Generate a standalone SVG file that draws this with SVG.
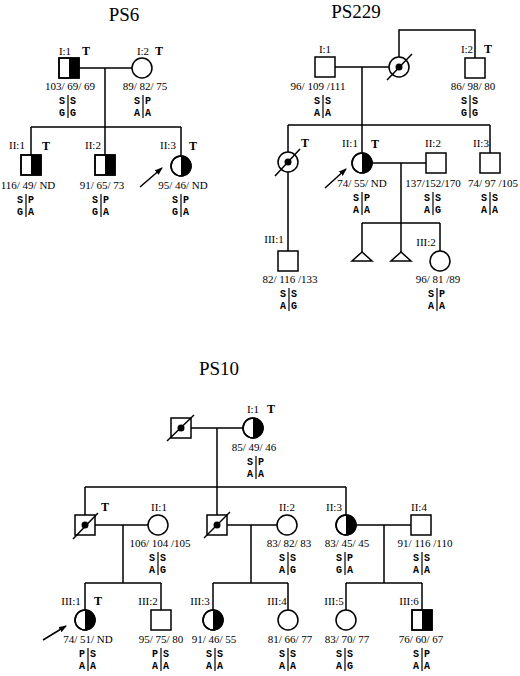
<svg xmlns="http://www.w3.org/2000/svg" width="520" height="676" viewBox="0 0 520 676">
<style>
.bg{fill:#fff}
.sh{fill:#fff;stroke:#000;stroke-width:1.5}
.fl{fill:#000;stroke:none}
.ln{stroke:#000;stroke-width:1.5;fill:none}
.bar{stroke:#000;stroke-width:1.2}
.ttl{font-family:"Liberation Serif",serif;font-size:19px;text-anchor:middle}
.num{font-family:"Liberation Serif",serif;font-size:11px;text-anchor:middle}
.lab{font-family:"Liberation Serif",serif;font-size:11px;text-anchor:middle}
.t{font-family:"Liberation Serif",serif;font-size:12px;font-weight:bold;text-anchor:middle}
.gl{font-family:"Liberation Mono",monospace;font-size:10px;font-weight:bold;text-anchor:end}
.gr{font-family:"Liberation Mono",monospace;font-size:10px;font-weight:bold;text-anchor:start}
</style>
<defs>
<marker id="ah" markerWidth="8" markerHeight="6" refX="7" refY="3" orient="auto" markerUnits="userSpaceOnUse"><path d="M0,0 L8,3 L0,6 Z" fill="#000"/></marker>
</defs>
<rect class="bg" x="0" y="0" width="520" height="676"/>
<text class="ttl" x="124" y="21">PS6</text>
<text class="ttl" x="356" y="18">PS229</text>
<text class="ttl" x="219" y="375">PS10</text>

<g id="connectors">
<path class="ln" d="M79,68 H132 M105,68 V127 M31,127 H181 M31,127 V155 M105,127 V155 M181,127 V156"/>
<path class="ln" d="M140,187 L162,168" marker-end="url(#ah)"/>
<path class="ln" d="M335,67 H389 M362,67 V125 M399,57 V30 H475 V58 M288,125 H490 M288,125 V152 M288,172 V251 M362,125 V153 M490,125 V153 M372,163 H426 M401,163 V252 M362,223 H440 M362,223 V252 M440,223 V251"/>
<path class="ln" d="M325,188 L346,169" marker-end="url(#ah)"/>
<path class="ln" d="M191,428 H243 M217,428 V487 M85,487 H346 M85,487 V515 M217,487 V515 M346,487 V515 M95,525 H148 M123,525 V583 M85,583 H161 M85,583 V610 M161,583 V610 M227,525 H277 M251,525 V583 M213,583 H288 M213,583 V610 M288,583 V610 M356,525 H411 M384,525 V583 M346,583 H422 M346,583 V610 M422,583 V610"/>
<path class="ln" d="M43,640 L66,626" marker-end="url(#ah)"/>
</g>

<g id="ps6-I1">
<rect class="sh" x="59" y="58" width="20" height="20"/><rect class="fl" x="69" y="58" width="10" height="20"/><rect class="ln" x="59" y="58" width="20" height="20"/>
<text class="lab" x="65" y="55">I:1</text><text class="t" x="86" y="55">T</text>
<text class="num" x="70" y="90">103/ 69/ 69</text>
<line class="bar" x1="68" y1="95" x2="68" y2="118"/>
<text class="gl" x="65" y="104">S</text><text class="gr" x="70" y="104">S</text>
<text class="gl" x="65" y="116">G</text><text class="gr" x="70" y="116">G</text>
</g>
<g id="ps6-I2">
<circle class="sh" cx="142" cy="68" r="10"/>
<text class="lab" x="143" y="55">I:2</text><text class="t" x="159" y="55">T</text>
<text class="num" x="145" y="90">89/ 82/ 75</text>
<line class="bar" x1="143" y1="95" x2="143" y2="118"/>
<text class="gl" x="140" y="104">S</text><text class="gr" x="145" y="104">P</text>
<text class="gl" x="140" y="116">A</text><text class="gr" x="145" y="116">A</text>
</g>
<g id="ps6-II1">
<rect class="sh" x="21" y="155" width="20" height="20"/><rect class="fl" x="31" y="155" width="10" height="20"/><rect class="ln" x="21" y="155" width="20" height="20"/>
<text class="lab" x="17" y="149">II:1</text><text class="t" x="46" y="150">T</text>
<text class="num" x="28" y="189">116/ 49/ ND</text>
<line class="bar" x1="26" y1="194" x2="26" y2="217"/>
<text class="gl" x="23" y="203">S</text><text class="gr" x="28" y="203">P</text>
<text class="gl" x="23" y="215">G</text><text class="gr" x="28" y="215">A</text>
</g>
<g id="ps6-II2">
<rect class="sh" x="95" y="155" width="20" height="20"/><rect class="fl" x="105" y="155" width="10" height="20"/><rect class="ln" x="95" y="155" width="20" height="20"/>
<text class="lab" x="93" y="149">II:2</text>
<text class="num" x="102" y="189">91/ 65/ 73</text>
<line class="bar" x1="101" y1="194" x2="101" y2="217"/>
<text class="gl" x="98" y="203">S</text><text class="gr" x="103" y="203">P</text>
<text class="gl" x="98" y="215">G</text><text class="gr" x="103" y="215">A</text>
</g>
<g id="ps6-II3">
<circle class="sh" cx="181" cy="166" r="10"/><path class="fl" d="M181,156 A10,10 0 0 1 181,176 Z"/><circle class="ln" cx="181" cy="166" r="10"/>
<text class="lab" x="168" y="149">II:3</text><text class="t" x="193" y="150">T</text>
<text class="num" x="183" y="189">95/ 46/ ND</text>
<line class="bar" x1="181" y1="194" x2="181" y2="217"/>
<text class="gl" x="178" y="203">S</text><text class="gr" x="183" y="203">P</text>
<text class="gl" x="178" y="215">G</text><text class="gr" x="183" y="215">A</text>
</g>

<g id="ps229-I1">
<rect class="sh" x="315" y="57" width="20" height="20"/>
<text class="lab" x="325" y="53">I:1</text>
<text class="num" x="318" y="90">96/ 109 /111</text>
<line class="bar" x1="323" y1="95" x2="323" y2="118"/>
<text class="gl" x="320" y="104">S</text><text class="gr" x="325" y="104">S</text>
<text class="gl" x="320" y="116">A</text><text class="gr" x="325" y="116">A</text>
</g>
<g id="ps229-Ideceased">
<circle class="sh" cx="399" cy="67" r="10"/><circle class="fl" cx="399" cy="67" r="3.5"/>
<line class="ln" x1="387" y1="80" x2="412" y2="54"/>
</g>
<g id="ps229-I2">
<rect class="sh" x="465" y="58" width="20" height="20"/>
<text class="lab" x="467" y="53">I:2</text><text class="t" x="488" y="53">T</text>
<text class="num" x="473" y="90">86/ 98/ 80</text>
<line class="bar" x1="470" y1="95" x2="470" y2="118"/>
<text class="gl" x="467" y="104">S</text><text class="gr" x="472" y="104">S</text>
<text class="gl" x="467" y="116">G</text><text class="gr" x="472" y="116">G</text>
</g>
<g id="ps229-IIdeceased">
<circle class="sh" cx="288" cy="162" r="10"/><circle class="fl" cx="288" cy="162" r="3.5"/>
<line class="ln" x1="275" y1="176" x2="300" y2="149"/>
<text class="t" x="305" y="147">T</text>
</g>
<g id="ps229-II1">
<circle class="sh" cx="362" cy="163" r="10"/><path class="fl" d="M362,153 A10,10 0 0 1 362,173 Z"/><circle class="ln" cx="362" cy="163" r="10"/>
<text class="lab" x="350" y="147">II:1</text><text class="t" x="375" y="148">T</text>
<text class="num" x="362" y="187">74/ 55/ ND</text>
<line class="bar" x1="362" y1="192" x2="362" y2="215"/>
<text class="gl" x="359" y="201">S</text><text class="gr" x="364" y="201">P</text>
<text class="gl" x="359" y="213">A</text><text class="gr" x="364" y="213">A</text>
</g>
<g id="ps229-II2">
<rect class="sh" x="426" y="153" width="20" height="20"/>
<text class="lab" x="433" y="147">II:2</text>
<text class="num" x="433" y="187">137/152/170</text>
<line class="bar" x1="433" y1="192" x2="433" y2="215"/>
<text class="gl" x="430" y="201">S</text><text class="gr" x="435" y="201">S</text>
<text class="gl" x="430" y="213">A</text><text class="gr" x="435" y="213">G</text>
</g>
<g id="ps229-II3">
<rect class="sh" x="480" y="153" width="20" height="20"/>
<text class="lab" x="481" y="147">II:3</text>
<text class="num" x="493" y="187">74/ 97 /105</text>
<line class="bar" x1="490" y1="192" x2="490" y2="215"/>
<text class="gl" x="487" y="201">S</text><text class="gr" x="492" y="201">S</text>
<text class="gl" x="487" y="213">A</text><text class="gr" x="492" y="213">A</text>
</g>
<g id="ps229-III1">
<rect class="sh" x="278" y="251" width="20" height="20"/>
<text class="lab" x="274" y="243">III:1</text>
<text class="num" x="290" y="283">82/ 116 /133</text>
<line class="bar" x1="289" y1="288" x2="289" y2="311"/>
<text class="gl" x="286" y="297">S</text><text class="gr" x="291" y="297">S</text>
<text class="gl" x="286" y="309">A</text><text class="gr" x="291" y="309">G</text>
</g>
<g id="ps229-tri1"><path class="sh" d="M362,252 L352,261 L372,261 Z"/></g>
<g id="ps229-tri2"><path class="sh" d="M401,252 L391,261 L411,261 Z"/></g>
<g id="ps229-III2">
<circle class="sh" cx="440" cy="261" r="10"/>
<text class="lab" x="426" y="246">III:2</text>
<text class="num" x="438" y="283">96/ 81 /89</text>
<line class="bar" x1="437" y1="288" x2="437" y2="311"/>
<text class="gl" x="434" y="297">S</text><text class="gr" x="439" y="297">P</text>
<text class="gl" x="434" y="309">A</text><text class="gr" x="439" y="309">A</text>
</g>

<g id="ps10-Ideceased">
<rect class="sh" x="171" y="418" width="20" height="20"/><circle class="fl" cx="181" cy="428" r="3.5"/>
<line class="ln" x1="167" y1="441" x2="194" y2="415"/>
</g>
<g id="ps10-I1">
<circle class="sh" cx="253" cy="428" r="10"/><path class="fl" d="M253,418 A10,10 0 0 1 253,438 Z"/><circle class="ln" cx="253" cy="428" r="10"/>
<text class="lab" x="253" y="413">I:1</text><text class="t" x="271" y="413">T</text>
<text class="num" x="254" y="451">85/ 49/ 46</text>
<line class="bar" x1="256" y1="456" x2="256" y2="479"/>
<text class="gl" x="253" y="465">S</text><text class="gr" x="258" y="465">P</text>
<text class="gl" x="253" y="477">A</text><text class="gr" x="258" y="477">A</text>
</g>
<g id="ps10-IIdeceased1">
<rect class="sh" x="75" y="515" width="20" height="20"/><circle class="fl" cx="85" cy="525" r="3.5"/>
<line class="ln" x1="73" y1="539" x2="98" y2="513"/>
<text class="t" x="105" y="511">T</text>
</g>
<g id="ps10-II1">
<circle class="sh" cx="158" cy="525" r="10"/>
<text class="lab" x="159" y="511">II:1</text>
<text class="num" x="160" y="547">106/ 104 /105</text>
<line class="bar" x1="158" y1="552" x2="158" y2="575"/>
<text class="gl" x="155" y="561">S</text><text class="gr" x="160" y="561">S</text>
<text class="gl" x="155" y="573">A</text><text class="gr" x="160" y="573">G</text>
</g>
<g id="ps10-IIdeceased2">
<rect class="sh" x="207" y="515" width="20" height="20"/><circle class="fl" cx="217" cy="525" r="3.5"/>
<line class="ln" x1="204" y1="538" x2="230" y2="512"/>
</g>
<g id="ps10-II2">
<circle class="sh" cx="287" cy="525" r="10"/>
<text class="lab" x="287" y="511">II:2</text>
<text class="num" x="289" y="547">83/ 82/ 83</text>
<line class="bar" x1="288" y1="552" x2="288" y2="575"/>
<text class="gl" x="285" y="561">S</text><text class="gr" x="290" y="561">S</text>
<text class="gl" x="285" y="573">A</text><text class="gr" x="290" y="573">G</text>
</g>
<g id="ps10-II3">
<circle class="sh" cx="346" cy="525" r="10"/><path class="fl" d="M346,515 A10,10 0 0 1 346,535 Z"/><circle class="ln" cx="346" cy="525" r="10"/>
<text class="lab" x="334" y="511">II:3</text>
<text class="num" x="347" y="547">83/ 45/ 45</text>
<line class="bar" x1="345" y1="552" x2="345" y2="575"/>
<text class="gl" x="342" y="561">S</text><text class="gr" x="347" y="561">P</text>
<text class="gl" x="342" y="573">G</text><text class="gr" x="347" y="573">A</text>
</g>
<g id="ps10-II4">
<rect class="sh" x="411" y="515" width="20" height="20"/>
<text class="lab" x="419" y="511">II:4</text>
<text class="num" x="425" y="547">91/ 116 /110</text>
<line class="bar" x1="422" y1="552" x2="422" y2="575"/>
<text class="gl" x="419" y="561">S</text><text class="gr" x="424" y="561">S</text>
<text class="gl" x="419" y="573">A</text><text class="gr" x="424" y="573">A</text>
</g>
<g id="ps10-III1">
<circle class="sh" cx="85" cy="620" r="10"/><path class="fl" d="M85,610 A10,10 0 0 1 85,630 Z"/><circle class="ln" cx="85" cy="620" r="10"/>
<text class="lab" x="71" y="605">III:1</text><text class="t" x="98" y="605">T</text>
<text class="num" x="88" y="643">74/ 51/ ND</text>
<line class="bar" x1="88" y1="648" x2="88" y2="671"/>
<text class="gl" x="85" y="657">P</text><text class="gr" x="90" y="657">S</text>
<text class="gl" x="85" y="669">A</text><text class="gr" x="90" y="669">A</text>
</g>
<g id="ps10-III2">
<rect class="sh" x="151" y="610" width="20" height="20"/>
<text class="lab" x="148" y="605">III:2</text>
<text class="num" x="161" y="643">95/ 75/ 80</text>
<line class="bar" x1="161" y1="648" x2="161" y2="671"/>
<text class="gl" x="158" y="657">P</text><text class="gr" x="163" y="657">S</text>
<text class="gl" x="158" y="669">A</text><text class="gr" x="163" y="669">A</text>
</g>
<g id="ps10-III3">
<circle class="sh" cx="213" cy="620" r="10"/><path class="fl" d="M213,610 A10,10 0 0 1 213,630 Z"/><circle class="ln" cx="213" cy="620" r="10"/>
<text class="lab" x="200" y="605">III:3</text>
<text class="num" x="214" y="643">91/ 46/ 55</text>
<line class="bar" x1="215" y1="648" x2="215" y2="671"/>
<text class="gl" x="212" y="657">S</text><text class="gr" x="217" y="657">S</text>
<text class="gl" x="212" y="669">A</text><text class="gr" x="217" y="669">A</text>
</g>
<g id="ps10-III4">
<circle class="sh" cx="288" cy="620" r="10"/>
<text class="lab" x="277" y="605">III:4</text>
<text class="num" x="290" y="643">81/ 66/ 77</text>
<line class="bar" x1="288" y1="648" x2="288" y2="671"/>
<text class="gl" x="285" y="657">S</text><text class="gr" x="290" y="657">S</text>
<text class="gl" x="285" y="669">A</text><text class="gr" x="290" y="669">A</text>
</g>
<g id="ps10-III5">
<circle class="sh" cx="346" cy="620" r="10"/>
<text class="lab" x="334" y="605">III:5</text>
<text class="num" x="347" y="643">83/ 70/ 77</text>
<line class="bar" x1="345" y1="648" x2="345" y2="671"/>
<text class="gl" x="342" y="657">S</text><text class="gr" x="347" y="657">S</text>
<text class="gl" x="342" y="669">A</text><text class="gr" x="347" y="669">G</text>
</g>
<g id="ps10-III6">
<rect class="sh" x="412" y="610" width="20" height="20"/><rect class="fl" x="422" y="610" width="10" height="20"/><rect class="ln" x="412" y="610" width="20" height="20"/>
<text class="lab" x="409" y="605">III:6</text>
<text class="num" x="421" y="643">76/ 60/ 67</text>
<line class="bar" x1="422" y1="648" x2="422" y2="671"/>
<text class="gl" x="419" y="657">S</text><text class="gr" x="424" y="657">P</text>
<text class="gl" x="419" y="669">A</text><text class="gr" x="424" y="669">A</text>
</g>
</svg>
